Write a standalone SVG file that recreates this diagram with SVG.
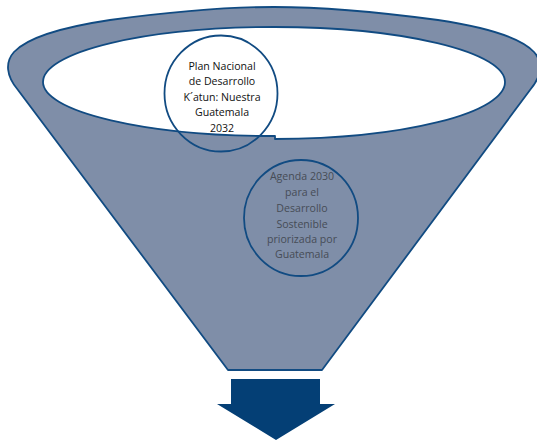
<svg xmlns="http://www.w3.org/2000/svg" width="537" height="441" viewBox="0 0 537 441">
<style>
.outline{stroke:#114b82;stroke-width:1.8;stroke-linejoin:round}
.t1{font-family:"Open Sans","Liberation Sans",Arial,sans-serif;font-size:10.6px;fill:#111;text-anchor:middle}
.t2{font-family:"Open Sans","Liberation Sans",Arial,sans-serif;font-size:10.6px;fill:#464c56;text-anchor:middle}
</style>
<rect width="537" height="441" fill="#ffffff"/>
<g id="funnel">
<path class="outline" fill="#7f8ea8" d="M 228 370 L 18 90 C 6 76 5 62 14 52 C 30 35 70 26 110 20 C 170 12 230 7 274 7 C 318 7 378 12 438 20 C 478 26 518 35 534 52 C 543 62 542 76 530 90 L 322 370 Z"/>
<path class="outline" fill="#ffffff" d="M 43 82 A 231 55 0 0 1 505 82 A 231 57 0 0 1 275 139 L 275 136 A 231 54 0 0 1 43 82 Z"/>
</g>
<g id="arrow">
<path fill="#043f75" d="M 231 379 L 320 379 L 320 404 L 335 404 L 276 440 L 217 404 L 231 404 Z"/>
</g>
<g id="node-plan">
<ellipse class="outline" fill="none" cx="221" cy="93.5" rx="56.5" ry="58"/>
<text class="t1" x="222" y="70">Plan Nacional</text>
<text class="t1" x="222" y="85">de Desarrollo</text>
<text class="t1" x="222" y="100.5">K´atun: Nuestra</text>
<text class="t1" x="222" y="116">Guatemala</text>
<text class="t1" x="222" y="131.5">2032</text>
</g>
<g id="node-agenda">
<ellipse class="outline" fill="none" cx="301" cy="218" rx="57" ry="58"/>
<text class="t2" x="302" y="180">Agenda 2030</text>
<text class="t2" x="302" y="196">para el</text>
<text class="t2" x="302" y="212">Desarrollo</text>
<text class="t2" x="302" y="227.5">Sostenible</text>
<text class="t2" x="302" y="242.5">priorizada por</text>
<text class="t2" x="302" y="257.5">Guatemala</text>
</g>
<g id="connectors"></g>
</svg>
